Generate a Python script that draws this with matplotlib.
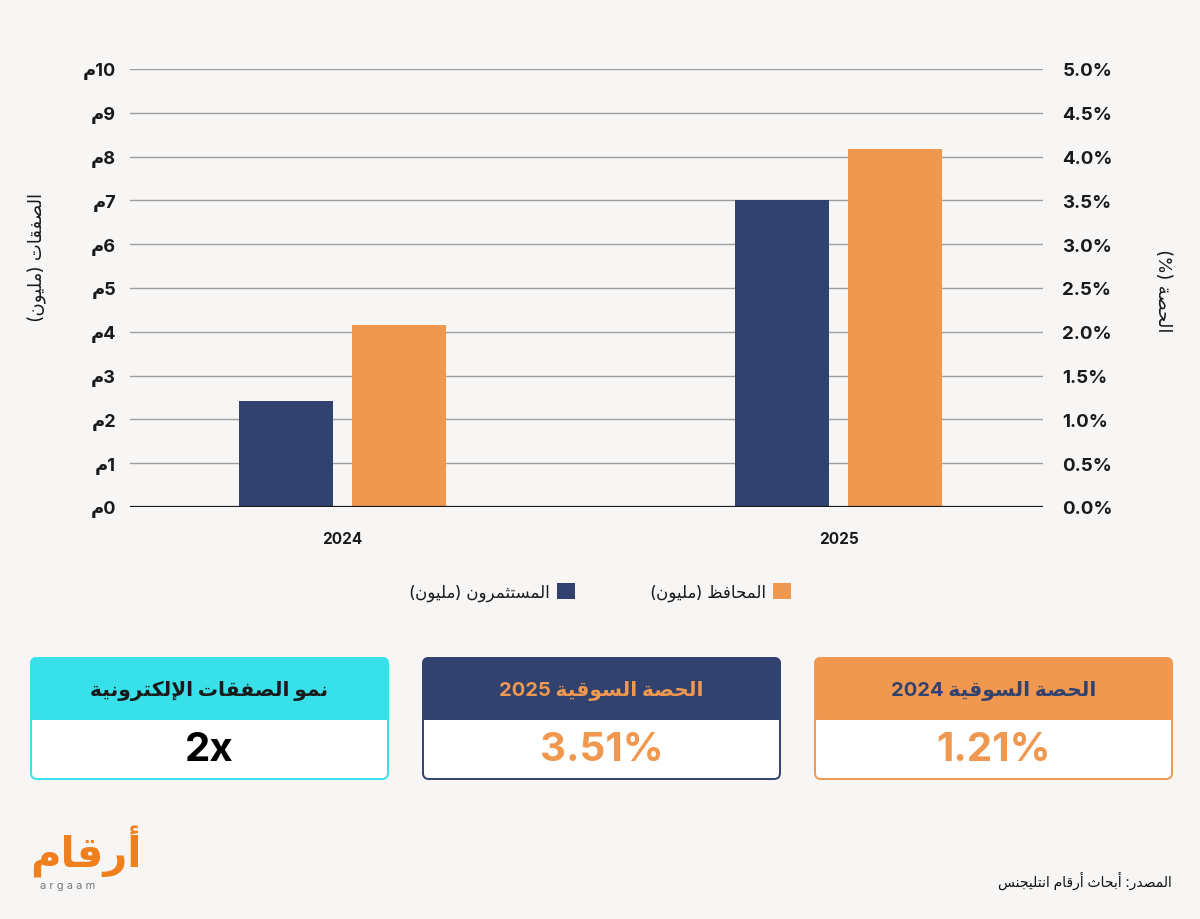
import re
import numpy as np
import matplotlib
matplotlib.use('Agg')
import matplotlib.pyplot as plt
from matplotlib.patches import FancyBboxPatch, Rectangle

plt.rcParams['font.family'] = ['Inter', 'DejaVu Sans']

# ---- data ----
years = ['2024', '2025']
investors = [2.43, 7.0]      # المستثمرون (مليون)
portfolios = [4.16, 8.17]    # المحافظ (مليون)
left_ticks = list(range(0, 11))
right_ticks = [0.0, 0.5, 1.0, 1.5, 2.0, 2.5, 3.0, 3.5, 4.0, 4.5, 5.0]

card_titles = ['نمو الصفقات الإلكترونية', 'الحصة السوقية 2025', 'الحصة السوقية 2024']
card_values = ['2x', '3.51%', '1.21%']

BG = '#F8F6F4'
NAVY = '#32426E'
ORANGE = '#F0984F'
CYAN = '#38E0EA'
DARK = '#1A1A1A'

# ---- minimal arabic shaping (presentation forms + visual order) ----
AR_BASE = {
    'ا': (0xFE8D, 2), 'أ': (0xFE83, 2), 'إ': (0xFE87, 2), 'آ': (0xFE81, 2),
    'ب': (0xFE8F, 4), 'ة': (0xFE93, 2), 'ت': (0xFE95, 4), 'ث': (0xFE99, 4),
    'ج': (0xFE9D, 4), 'ح': (0xFEA1, 4), 'خ': (0xFEA5, 4), 'د': (0xFEA9, 2),
    'ذ': (0xFEAB, 2), 'ر': (0xFEAD, 2), 'ز': (0xFEAF, 2), 'س': (0xFEB1, 4),
    'ش': (0xFEB5, 4), 'ص': (0xFEB9, 4), 'ض': (0xFEBD, 4), 'ط': (0xFEC1, 4),
    'ظ': (0xFEC5, 4), 'ع': (0xFEC9, 4), 'غ': (0xFECD, 4), 'ف': (0xFED1, 4),
    'ق': (0xFED5, 4), 'ك': (0xFED9, 4), 'ل': (0xFEDD, 4), 'م': (0xFEE1, 4),
    'ن': (0xFEE5, 4), 'ه': (0xFEE9, 4), 'و': (0xFEED, 2), 'ى': (0xFEEF, 2),
    'ي': (0xFEF1, 4),
    '\uE001': (0xFEFB, 2), '\uE002': (0xFEF7, 2), '\uE003': (0xFEF9, 2), '\uE004': (0xFEF5, 2),
}
LAM_ALEF = {'ا': '\uE001', 'أ': '\uE002', 'إ': '\uE003', 'آ': '\uE004'}


def ar(text):
    s = text
    for a, lig in LAM_ALEF.items():
        s = s.replace('ل' + a, lig)
    out = []
    for i, ch in enumerate(s):
        if ch not in AR_BASE:
            out.append(ch)
            continue
        base, n = AR_BASE[ch]
        prev = s[i - 1] if i > 0 else ''
        nxt = s[i + 1] if i + 1 < len(s) else ''
        jp = prev in AR_BASE and AR_BASE[prev][1] == 4
        jn = n == 4 and nxt in AR_BASE
        form = 3 if (jp and jn) else 1 if jp else 2 if jn else 0
        out.append(chr(base + form))
    vis = ''.join(reversed(out)).translate(str.maketrans('()', ')('))
    return re.sub(r'[0-9.]+', lambda m: m.group(0)[::-1], vis)


fig = plt.figure(figsize=(12, 9.2), dpi=100, facecolor=BG)

# overlay in pixel coords for cards / logo
ov = fig.add_axes([0, 0, 1, 1])
ov.set_xlim(0, 1200)
ov.set_ylim(920, 0)
ov.axis('off')

ax = fig.add_axes([130 / 1200, 1 - 508 / 920, 913 / 1200, 438 / 920])
ax.set_facecolor('none')

x = np.arange(len(years))
b_inv = ax.bar(x - 0.114, investors, 0.19, color=NAVY, zorder=3)
b_port = ax.bar(x + 0.114, portfolios, 0.19, color=ORANGE, zorder=3)

ax.set_xlim(-0.428, 1.412)
ax.set_ylim(0, 10)
ax.set_yticks(left_ticks)
ax.set_yticklabels([ar('م') + str(v) for v in left_ticks], fontsize=13,
                   fontweight='bold', color=DARK)
ax.grid(axis='y', color='#9E9E9E', lw=1.0, zorder=0)
ax.axhline(0, color=DARK, lw=1.6, zorder=4)
ax.set_xticks(x)
ax.set_xticklabels(years, fontsize=11, fontweight='bold', color=DARK)
ax.tick_params(axis='x', length=0, pad=17)
ax.tick_params(axis='y', length=0, pad=10)
for sp in ax.spines.values():
    sp.set_visible(False)

ax2 = ax.twinx()
ax2.set_ylim(0, 5)
ax2.set_yticks(right_ticks)
ax2.set_yticklabels([f'{v:.1f}%' for v in right_ticks], fontsize=13.5,
                    fontweight='bold', color=DARK)
ax2.tick_params(axis='y', length=0, pad=14)
for sp in ax2.spines.values():
    sp.set_visible(False)

fig.text(37 / 1200, 1 - 257 / 920, ar('الصفقات (مليون)'), rotation=90,
         ha='center', va='center', fontsize=13, color=DARK)
fig.text(1163 / 1200, 1 - 291 / 920, ar('الحصة (%)'), rotation=270,
         ha='center', va='center', fontsize=13, color=DARK)

fig.legend(handles=[b_inv, b_port],
           labels=[ar('المستثمرون (مليون)'), ar('المحافظ (مليون)')],
           loc='center', bbox_to_anchor=(0.5, 1 - 593 / 920), ncol=2,
           markerfirst=False, frameon=False, fontsize=12, handlelength=1.05,
           handleheight=1.05, handletextpad=0.45, columnspacing=4.5,
           labelcolor=DARK)

# ---- cards ----
card_x = [31, 423, 815]
card_w = 357
head_col = [CYAN, NAVY, ORANGE]
head_txt = [DARK, ORANGE, NAVY]
val_col = ['#000000', ORANGE, ORANGE]
top, mid, bot = 659, 720, 780
for cx, title, val, hc, tc, vc in zip(card_x, card_titles, card_values,
                                      head_col, head_txt, val_col):
    ov.add_patch(FancyBboxPatch((cx, top), card_w, bot - top,
                                boxstyle='round,pad=0,rounding_size=6',
                                fc='white', ec=hc, lw=1.4))
    ov.add_patch(FancyBboxPatch((cx, top), card_w, mid - top,
                                boxstyle='round,pad=0,rounding_size=6',
                                fc=hc, ec=hc, lw=1.4))
    ov.add_patch(Rectangle((cx, top + 20), card_w, mid - top - 20,
                           fc=hc, ec=hc, lw=1.4))
    ov.text(cx + card_w / 2, 691, ar(title), ha='center', va='center',
            fontsize=14.5, fontweight='bold', color=tc)
    ov.text(cx + card_w / 2, 751, val, ha='center', va='center',
            fontsize=29, fontweight='bold', color=vc)

# ---- logo and source ----
ov.text(30, 868, ar('أرقام'), ha='left', va='baseline', fontsize=30,
        fontweight='bold', color='#F07F1E')
ov.text(40, 889, 'a r g a a m', ha='left', va='baseline', fontsize=8,
        color='#777777')
ov.text(1172, 881, ar('المصدر: أبحاث أرقام انتليجنس'), ha='right',
        va='center', fontsize=10, color='#111111')

fig.savefig('out.png', dpi=100, facecolor=BG)
